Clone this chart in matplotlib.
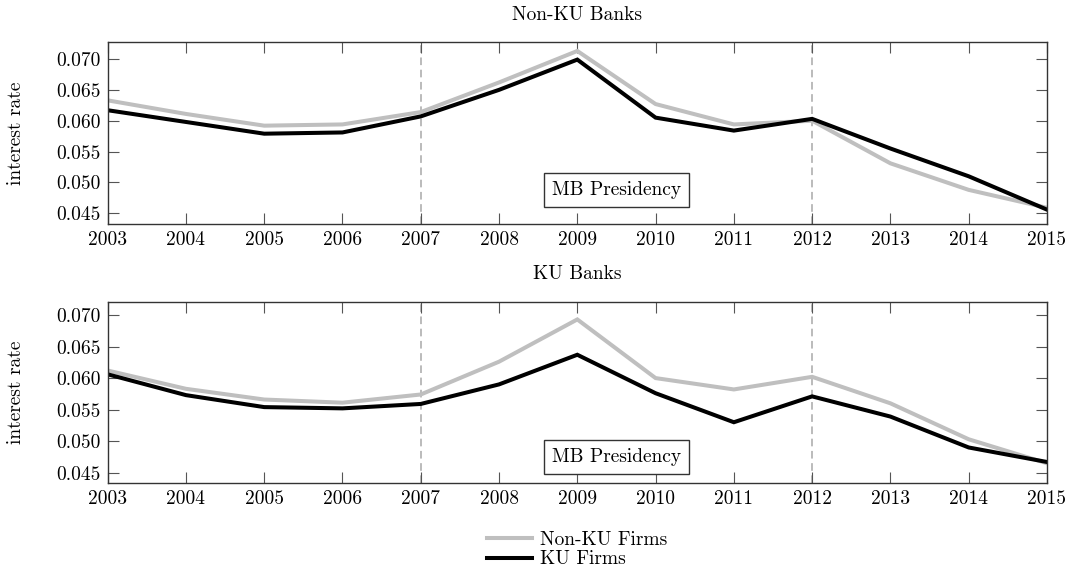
import matplotlib
matplotlib.use("Agg")
import matplotlib.pyplot as plt

years = list(range(2003, 2016))

# Non-KU banks
nonku_banks_nonku_firms = [0.0633, 0.0611, 0.0592, 0.0594, 0.0614, 0.0662, 0.0713,
                           0.0627, 0.0594, 0.0600, 0.0531, 0.0488, 0.0459]
nonku_banks_ku_firms = [0.0617, 0.0598, 0.0579, 0.0581, 0.0607, 0.0650, 0.0699,
                        0.0605, 0.0584, 0.0603, 0.0555, 0.0510, 0.0456]

# KU banks
ku_banks_nonku_firms = [0.0612, 0.0583, 0.0566, 0.0561, 0.0574, 0.0626, 0.0693,
                        0.0600, 0.0582, 0.0602, 0.0560, 0.0503, 0.0465]
ku_banks_ku_firms = [0.0606, 0.0573, 0.0554, 0.0552, 0.0559, 0.0590, 0.0637,
                     0.0576, 0.0530, 0.0571, 0.0539, 0.0490, 0.0467]

yticks = [0.045, 0.050, 0.055, 0.060, 0.065, 0.070]
ytick_labels = ["0.045", "0.050", "0.055", "0.060", "0.065", "0.070"]
presidency = [2007, 2012]

panels = [
    ("Non-KU Banks", nonku_banks_nonku_firms, nonku_banks_ku_firms, (0.04327, 0.07275), 0.0488),
    ("KU Banks", ku_banks_nonku_firms, ku_banks_ku_firms, (0.04332, 0.07211), 0.0475),
]

plt.rcParams["font.family"] = ["cmr10", "DejaVu Serif"]
plt.rcParams["mathtext.fontset"] = "cm"
plt.rcParams["axes.formatter.use_mathtext"] = True
FS = 14

fig = plt.figure(figsize=(10.68, 5.70), dpi=100)
rects = [[0.1008, 0.6070, 0.8795, 0.3193], [0.1008, 0.1521, 0.8795, 0.3186]]

GRAY = "#bfbfbf"
for rect, (title, nonku, ku, ylim, box_y) in zip(rects, panels):
    ax = fig.add_axes(rect)
    ax.plot(years, nonku, color=GRAY, lw=2.9, label="Non-KU Firms", solid_joinstyle="miter")
    ax.plot(years, ku, color="black", lw=2.9, label="KU Firms", solid_joinstyle="miter")
    for x in presidency:
        ax.axvline(x, color="#a8a8a8", lw=1.1, dashes=(5, 3), zorder=0)
    ax.set_xlim(years[0], years[-1])
    ax.set_ylim(*ylim)
    ax.set_xticks(years)
    ax.set_xticklabels([str(y) for y in years], fontsize=FS)
    ax.set_yticks(yticks)
    ax.set_yticklabels(ytick_labels, fontsize=FS)
    ax.tick_params(direction="in", length=8, width=0.8, color="#555555",
                   top=True, right=True, labeltop=False, labelright=False)
    ax.tick_params(axis="x", pad=5)
    ax.tick_params(axis="y", pad=5)
    for sp in ax.spines.values():
        sp.set_linewidth(1.0)
        sp.set_color("#333333")
    ax.set_ylabel("interest rate", fontsize=FS)
    ax.set_title(title, fontsize=FS, pad=16)
    ax.text(2009.5, box_y, "MB Presidency", fontsize=FS, ha="center", va="center",
            bbox=dict(boxstyle="square,pad=0.4", fc="white", ec="#333333", lw=1.0))
    ax.yaxis.set_label_coords(-0.088, 0.5)
    if title == "KU Banks":
        handles, labels = ax.get_legend_handles_labels()

fig.legend(handles, labels, loc="upper left", bbox_to_anchor=(0.456, 0.069),
           frameon=False, fontsize=FS, handlelength=2.3, handletextpad=0.45,
           labelspacing=0.1, borderpad=0, borderaxespad=0)

fig.savefig("out.png", dpi=100, facecolor="white")
